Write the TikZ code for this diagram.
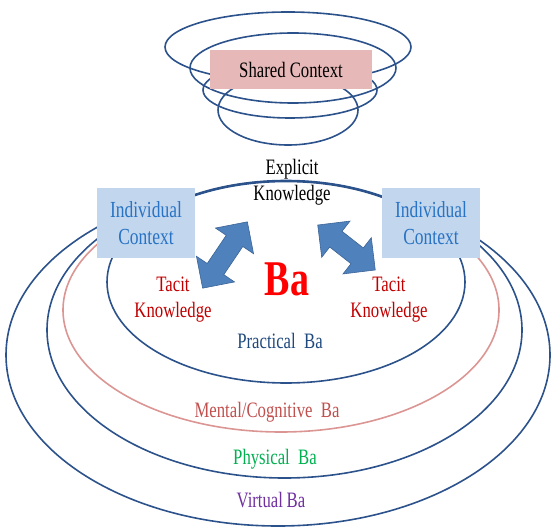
\documentclass[tikz,border=0pt]{standalone}
\usepackage{fontspec}
\setmainfont{Liberation Serif}[FakeStretch=0.76]
\definecolor{ringblue}{RGB}{44,82,140}
\definecolor{mentalline}{RGB}{219,150,148}
\definecolor{ctxfill}{RGB}{194,214,238}
\definecolor{ctxtext}{RGB}{40,115,195}
\definecolor{sharedfill}{RGB}{230,184,183}
\definecolor{tacitred}{RGB}{192,0,0}
\definecolor{mentaltext}{RGB}{192,80,77}
\definecolor{physgreen}{RGB}{0,176,80}
\definecolor{virtpurple}{RGB}{112,48,160}
\definecolor{practblue}{RGB}{31,73,125}
\definecolor{arrowfill}{RGB}{79,129,189}
\definecolor{arrowedge}{RGB}{60,100,150}

% double-headed block arrow: centre, direction, tip-to-tip length
\newcommand\blockarrow[3]{%
  \draw[bigarrow, shift={(#1)}, rotate=#2]
    (-#3/2,0) -- (-#3/2+23,23) -- (-#3/2+23,10) -- (#3/2-23,10)
    -- (#3/2-23,23) -- (#3/2,0) -- (#3/2-23,-23) -- (#3/2-23,-10)
    -- (-#3/2+23,-10) -- (-#3/2+23,-23) -- cycle;}

\tikzset{
  ring/.style={draw=ringblue, line width=1.6pt},
  ctxbox/.style={rectangle, fill=ctxfill, text=ctxtext, minimum width=98pt,
    minimum height=70pt, align=center, inner sep=0pt,
    font=\fontsize{23}{27}\selectfont},
  lbl/.style={align=center, inner sep=0pt, font=\fontsize{22}{26}\selectfont},
  bigarrow/.style={fill=arrowfill, draw=arrowedge, line width=0.6pt, line join=miter},
}

\begin{document}
\begin{tikzpicture}[x=1pt,y=-1pt]
\useasboundingbox (0,0) rectangle (553,529);

% shared-context spiral
\draw[ring] (288,47) ellipse [x radius=123, y radius=35];
\draw[ring] (293,68) ellipse [x radius=103, y radius=35];
\draw[ring] (290,90) ellipse [x radius=87, y radius=28];
\draw[ring] (288,110) ellipse [x radius=70, y radius=35];
\node[rectangle, fill=sharedfill, minimum width=162pt, minimum height=39pt,
  inner sep=0pt, font=\fontsize{22}{26}\selectfont] (shared) at (291,69.5) {Shared Context};

% outer Ba layers, open at the top
\begin{scope}
  \clip (0,222) rectangle (553,529);
  \draw[ring] (278,355) ellipse [x radius=272, y radius=171];
  \draw[ring] (284.5,330) ellipse [x radius=237.5, y radius=148];
  \draw[draw=mentalline, line width=1.6pt] (281,310) ellipse [x radius=218, y radius=122];
\end{scope}

% practical Ba
\draw[ring] (286,282) ellipse [x radius=179, y radius=101];
\begin{scope}
  \clip (150,150) rectangle (420,200);
  \draw[ring, line width=2.6pt] (286,282) ellipse [x radius=179, y radius=101];
\end{scope}

% individual contexts
\node[ctxbox] (indL) at (146,223) {Individual\\Context};
\node[ctxbox] (indR) at (431,223) {Individual\\Context};

% knowledge conversion arrows
\blockarrow{225,255}{56}{80}
\blockarrow{346.5,247.5}{-38}{73}

% labels
\node[lbl] (explicit) at (292,182) {Explicit\\Knowledge};
\node[lbl, text=tacitred] (tacitL) at (173,300) {Tacit\\Knowledge};
\node[lbl, text=tacitred] (tacitR) at (389,300) {Tacit\\Knowledge};
\node[inner sep=0pt, anchor=base, text=red, font=\fontsize{50}{55}\selectfont\bfseries] (ba) at (287,295) {Ba};
\node[lbl, text=practblue] (practical) at (280,341) {Practical\ \ Ba};
\node[lbl, text=mentaltext] (mental) at (267,412) {Mental/Cognitive\ \ Ba};
\node[lbl, text=physgreen] (physical) at (275,459) {Physical\ \ Ba};
\node[lbl, text=virtpurple] (virtual) at (271,500) {Virtual\,Ba};
\end{tikzpicture}
\end{document}
